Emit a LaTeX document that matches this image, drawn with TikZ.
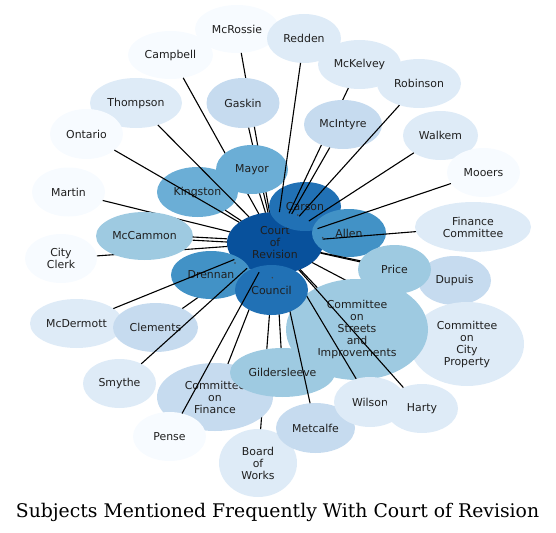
\documentclass[tikz,border=0pt]{standalone}
\usepackage{fontspec}
\setmainfont{DejaVu Sans}
\newfontfamily\titlefont{DejaVu Serif}
\usetikzlibrary{shapes.geometric}
\definecolor{c0}{HTML}{F7FBFF}
\definecolor{c1}{HTML}{DEEBF7}
\definecolor{c2}{HTML}{C6DBEF}
\definecolor{c3}{HTML}{9ECAE1}
\definecolor{c4}{HTML}{6BAED6}
\definecolor{c5}{HTML}{4292C6}
\definecolor{c6}{HTML}{2171B5}
\definecolor{c7}{HTML}{08519C}
\tikzset{
  nd/.style={ellipse, inner sep=0pt, outer sep=0pt, align=center, text=black!88,
    font=\fontsize{10.9}{12}\selectfont},
  ln/.style={draw=black, line width=1.1pt},
  dot/.style={fill=black!75},
}
\begin{document}
\begin{tikzpicture}[x=1pt,y=-1pt]
\useasboundingbox (0,0) rectangle (556,532);
% centre
\node[nd,fill=c7,minimum width=96pt,minimum height=62pt] (court) at (275,243) {Court\\of\\Revision};
% upper left group
\node[nd,fill=c0,minimum width=84pt,minimum height=48pt] (mcrossie) at (237,29) {McRossie};
\draw[ln] (court) -- (mcrossie);
\node[nd,fill=c0,minimum width=85pt,minimum height=48pt] (campbell) at (170.5,55) {Campbell};
\draw[ln] (court) -- (campbell);
\node[nd,fill=c2,minimum width=73pt,minimum height=50pt] (gaskin) at (243,103) {Gaskin};
\draw[ln] (court) -- (gaskin);
\node[nd,fill=c0,minimum width=72pt,minimum height=49pt] (cityclerk) at (61,258.5) {City\\Clerk};
\draw[ln] (court) -- (cityclerk);
\node[nd,fill=c0,minimum width=73pt,minimum height=49pt] (martin) at (68.5,192) {Martin};
\draw[ln] (court) -- (martin);
\node[nd,fill=c4,minimum width=81pt,minimum height=50pt] (kingston) at (197.5,192) {Kingston};
\draw[ln] (court) -- (kingston);
\node[nd,fill=c4,minimum width=72pt,minimum height=49pt] (mayor) at (252,169.5) {Mayor};
\draw[ln] (court) -- (mayor);
\node[nd,fill=c6,minimum width=72pt,minimum height=49pt] (carson) at (305,206.5) {Carson};
\fill[dot] (297.7,215) circle (0.8pt);
% upper right group
\node[nd,fill=c1,minimum width=74pt,minimum height=49pt] (redden) at (304,38.5) {Redden};
\draw[ln] (court) -- (redden);
\node[nd,fill=c1,minimum width=83pt,minimum height=49pt] (mckelvey) at (359.5,64.5) {McKelvey};
\draw[ln] (court) -- (mckelvey);
\node[nd,fill=c2,minimum width=78pt,minimum height=49pt] (mcintyre) at (343,124.5) {McIntyre};
\draw[ln] (court) -- (mcintyre);
\node[nd,fill=c1,minimum width=84pt,minimum height=49pt] (robinson) at (419,83.5) {Robinson};
\draw[ln] (court) -- (robinson);
\node[nd,fill=c1,minimum width=75pt,minimum height=49pt] (walkem) at (440.5,135.5) {Walkem};
\draw[ln] (court) -- (walkem);
\node[nd,fill=c5,minimum width=74pt,minimum height=48pt] (allen) at (349,233) {Allen};
\fill[dot] (322.7,237.7) circle (0.8pt);
\node[nd,fill=c0,minimum width=73pt,minimum height=49pt] (mooers) at (483.5,172.5) {Mooers};
\draw[ln] (court) -- (mooers);
\node[nd,fill=c1,minimum width=116pt,minimum height=50pt] (financecom) at (473,227) {Finance\\Committee};
\draw[ln] (court) -- (financecom);
% left group
\node[nd,fill=c1,minimum width=92pt,minimum height=50pt] (thompson) at (136,103) {Thompson};
\draw[ln] (court) -- (thompson);
\node[nd,fill=c0,minimum width=73pt,minimum height=50pt] (ontario) at (86.5,134) {Ontario};
\draw[ln] (court) -- (ontario);
\node[nd,fill=c3,minimum width=97pt,minimum height=48pt] (mccammon) at (144.5,236) {McCammon};
\draw[ln,transform canvas={yshift=1.6pt}] (court) -- (mccammon);
\draw[ln,transform canvas={yshift=-1.6pt}] (court) -- (mccammon);
\node[nd,fill=c1,minimum width=93pt,minimum height=49pt] (mcdermott) at (76.5,323.5) {McDermott};
\node[nd,fill=c2,minimum width=85pt,minimum height=49pt] (clements) at (155.5,327.5) {Clements};
\draw[ln] (court) -- (clements);
\node[nd,fill=c5,minimum width=80pt,minimum height=48pt] (drennan) at (211,275) {Drennan};
\fill[dot] (235,263) circle (0.8pt);
\draw[ln] (court) -- (mcdermott);
\node[nd,fill=c1,minimum width=73pt,minimum height=49pt] (smythe) at (119.5,383.5) {Smythe};
\draw[ln] (court) -- (smythe);
% right group
\node[nd,fill=c2,minimum width=73pt,minimum height=49pt] (dupuis) at (454.5,280.5) {Dupuis};
\draw[ln] (court) -- (dupuis);
\node[nd,fill=c3,minimum width=73pt,minimum height=49pt] (price) at (394.5,269.5) {Price};
\draw[ln] (court) -- (price);
\node[nd,fill=c1,minimum width=114pt,minimum height=84pt] (cityprop) at (467,344) {Committee\\on\\City\\Property};
\draw[ln] (court) -- (cityprop);
\node[nd,fill=c3,minimum width=142pt,minimum height=101pt] (streets) at (357,329.5) {Committee\\on\\Streets\\and\\Improvements};
\draw[ln] (court) -- (streets);
% bottom group
\node[nd,fill=c1,minimum width=78pt,minimum height=68pt] (works) at (258,463) {Board\\of\\Works};
\draw[ln] (court) -- (works);
\node[nd,fill=c2,minimum width=116pt,minimum height=68pt] (cofinance) at (215,397) {Committee\\on\\Finance};
\draw[ln] (court) -- (cofinance);
\node[nd,fill=c3,minimum width=105pt,minimum height=49pt] (gilder) at (282.5,372.5) {Gildersleeve};
\draw[ln] (court) -- (gilder);
\node[nd,fill=c2,minimum width=79pt,minimum height=50pt] (metcalfe) at (315.5,428) {Metcalfe};
\draw[ln] (court) -- (metcalfe);
\node[nd,fill=c1,minimum width=72pt,minimum height=50pt] (wilson) at (370,402) {Wilson};
\draw[ln] (court) -- (wilson);
\node[nd,fill=c1,minimum width=72pt,minimum height=49pt] (harty) at (422,408.5) {Harty};
\draw[ln] (court) -- (harty);
\node[nd,fill=c6,minimum width=73pt,minimum height=50pt] (council) at (271.5,290) {Council};
\fill[dot] (272.3,277.7) circle (0.8pt);
\node[nd,fill=c0,minimum width=73pt,minimum height=49pt] (pense) at (169.5,436.5) {Pense};
\draw[ln] (court) -- (pense);
% title
\node[anchor=base,inner sep=0pt,font=\titlefont\fontsize{18.8}{20}\selectfont] (title) at (277.5,517) {Subjects Mentioned Frequently With Court of Revision};
\end{tikzpicture}
\end{document}
